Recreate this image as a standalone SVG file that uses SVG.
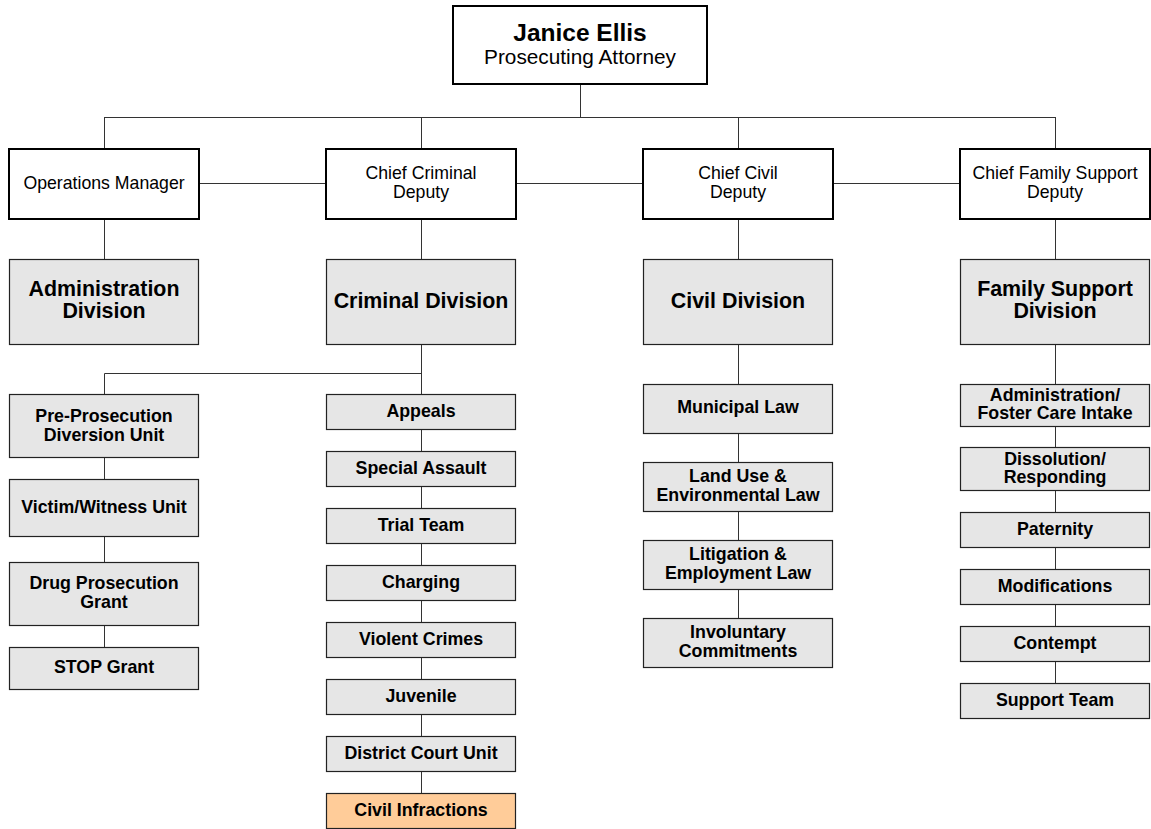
<svg xmlns="http://www.w3.org/2000/svg" width="1151" height="829" viewBox="0 0 1151 829">
  <style>
    text { font-family: "Liberation Sans", Arial, sans-serif; fill: #000; text-anchor: middle; }
    .head { fill: #fff; stroke: #000; stroke-width: 2; }
    .div { fill: #e6e6e6; stroke: #222; stroke-width: 1.2; }
    .unit { fill: #e6e6e6; stroke: #222; stroke-width: 1.2; }
    .hot { fill: #ffcc99; stroke: #222; stroke-width: 1.2; }
    .name { font-size: 24.5px; font-weight: bold; }
    .title { font-size: 20.8px; }
    .dep { font-size: 17.7px; }
    .dtitle { font-size: 21.4px; font-weight: bold; }
    .u { font-size: 17.8px; font-weight: bold; }
    .conn line { stroke: #333; stroke-width: 1; }
  </style>

  <!-- reporting lines -->
  <g id="connectors" class="conn">
    <line x1="580.5" y1="84" x2="580.5" y2="117.5"/>
    <line x1="104.5" y1="117.5" x2="1055.5" y2="117.5"/>
    <line x1="104.5" y1="117" x2="104.5" y2="149"/>
    <line x1="421.5" y1="117" x2="421.5" y2="149"/>
    <line x1="738.5" y1="117" x2="738.5" y2="149"/>
    <line x1="1055.5" y1="117" x2="1055.5" y2="149"/>
    <line x1="199" y1="183.5" x2="326" y2="183.5"/>
    <line x1="516" y1="183.5" x2="643" y2="183.5"/>
    <line x1="833" y1="183.5" x2="960" y2="183.5"/>
    <line x1="104.5" y1="219" x2="104.5" y2="259"/>
    <line x1="421.5" y1="219" x2="421.5" y2="259"/>
    <line x1="738.5" y1="219" x2="738.5" y2="259"/>
    <line x1="1055.5" y1="219" x2="1055.5" y2="259"/>
    <!-- criminal division units -->
    <line x1="421.5" y1="344" x2="421.5" y2="793"/>
    <line x1="104.5" y1="373.5" x2="421.5" y2="373.5"/>
    <line x1="104.5" y1="373.5" x2="104.5" y2="647"/>
    <!-- civil division units -->
    <line x1="738.5" y1="344" x2="738.5" y2="618"/>
    <!-- family support units -->
    <line x1="1055.5" y1="344" x2="1055.5" y2="683"/>
  </g>

  <g id="prosecuting-attorney">
    <rect class="head" x="453" y="6" width="254" height="78"/>
    <text class="name" x="580" y="41">Janice Ellis</text>
    <text class="title" x="580" y="64">Prosecuting Attorney</text>
  </g>

  <!-- deputies -->
  <g id="operations-manager">
    <rect class="head" x="9" y="149" width="190" height="70"/>
    <text class="dep" x="104" y="189">Operations Manager</text>
  </g>
  <g id="chief-criminal-deputy">
    <rect class="head" x="326" y="149" width="190" height="70"/>
    <text class="dep" x="421" y="179">Chief Criminal</text>
    <text class="dep" x="421" y="198">Deputy</text>
  </g>
  <g id="chief-civil-deputy">
    <rect class="head" x="643" y="149" width="190" height="70"/>
    <text class="dep" x="738" y="179">Chief Civil</text>
    <text class="dep" x="738" y="198">Deputy</text>
  </g>
  <g id="chief-family-support-deputy">
    <rect class="head" x="960" y="149" width="190" height="70"/>
    <text class="dep" x="1055" y="179">Chief Family Support</text>
    <text class="dep" x="1055" y="198">Deputy</text>
  </g>

  <!-- divisions -->
  <g id="administration-division">
    <rect class="div" x="9.5" y="259.5" width="189" height="85"/>
    <text class="dtitle" x="104" y="296">Administration</text>
    <text class="dtitle" x="104" y="318">Division</text>
  </g>
  <g id="criminal-division">
    <rect class="div" x="326.5" y="259.5" width="189" height="85"/>
    <text class="dtitle" x="421" y="308">Criminal Division</text>
  </g>
  <g id="civil-division">
    <rect class="div" x="643.5" y="259.5" width="189" height="85"/>
    <text class="dtitle" x="738" y="308">Civil Division</text>
  </g>
  <g id="family-support-division">
    <rect class="div" x="960.5" y="259.5" width="189" height="85"/>
    <text class="dtitle" x="1055" y="296">Family Support</text>
    <text class="dtitle" x="1055" y="318">Division</text>
  </g>

  <!-- criminal division: left branch -->
  <g id="pre-prosecution-diversion-unit">
    <rect class="unit" x="9.5" y="394.5" width="189" height="63"/>
    <text class="u" x="104" y="422">Pre-Prosecution</text>
    <text class="u" x="104" y="441">Diversion Unit</text>
  </g>
  <g id="victim-witness-unit">
    <rect class="unit" x="9.5" y="479.5" width="189" height="57"/>
    <text class="u" x="104" y="513">Victim/Witness Unit</text>
  </g>
  <g id="drug-prosecution-grant">
    <rect class="unit" x="9.5" y="562.5" width="189" height="63"/>
    <text class="u" x="104" y="589">Drug Prosecution</text>
    <text class="u" x="104" y="608">Grant</text>
  </g>
  <g id="stop-grant">
    <rect class="unit" x="9.5" y="647.5" width="189" height="42"/>
    <text class="u" x="104" y="673">STOP Grant</text>
  </g>

  <!-- criminal division: main chain -->
  <g id="appeals">
    <rect class="unit" x="326.5" y="394.5" width="189" height="35"/>
    <text class="u" x="421" y="417">Appeals</text>
  </g>
  <g id="special-assault">
    <rect class="unit" x="326.5" y="451.5" width="189" height="35"/>
    <text class="u" x="421" y="474">Special Assault</text>
  </g>
  <g id="trial-team">
    <rect class="unit" x="326.5" y="508.5" width="189" height="35"/>
    <text class="u" x="421" y="531">Trial Team</text>
  </g>
  <g id="charging">
    <rect class="unit" x="326.5" y="565.5" width="189" height="35"/>
    <text class="u" x="421" y="588">Charging</text>
  </g>
  <g id="violent-crimes">
    <rect class="unit" x="326.5" y="622.5" width="189" height="35"/>
    <text class="u" x="421" y="645">Violent Crimes</text>
  </g>
  <g id="juvenile">
    <rect class="unit" x="326.5" y="679.5" width="189" height="35"/>
    <text class="u" x="421" y="702">Juvenile</text>
  </g>
  <g id="district-court-unit">
    <rect class="unit" x="326.5" y="736.5" width="189" height="35"/>
    <text class="u" x="421" y="759">District Court Unit</text>
  </g>
  <g id="civil-infractions">
    <rect class="hot" x="326.5" y="793.5" width="189" height="35"/>
    <text class="u" x="421" y="816">Civil Infractions</text>
  </g>

  <!-- civil division chain -->
  <g id="municipal-law">
    <rect class="unit" x="643.5" y="384.5" width="189" height="49"/>
    <text class="u" x="738" y="413">Municipal Law</text>
  </g>
  <g id="land-use-environmental-law">
    <rect class="unit" x="643.5" y="462.5" width="189" height="49"/>
    <text class="u" x="738" y="482">Land Use &amp;</text>
    <text class="u" x="738" y="501">Environmental Law</text>
  </g>
  <g id="litigation-employment-law">
    <rect class="unit" x="643.5" y="540.5" width="189" height="49"/>
    <text class="u" x="738" y="560">Litigation &amp;</text>
    <text class="u" x="738" y="579">Employment Law</text>
  </g>
  <g id="involuntary-commitments">
    <rect class="unit" x="643.5" y="618.5" width="189" height="49"/>
    <text class="u" x="738" y="638">Involuntary</text>
    <text class="u" x="738" y="657">Commitments</text>
  </g>

  <!-- family support chain -->
  <g id="administration-foster-care-intake">
    <rect class="unit" x="960.5" y="384.5" width="189" height="42"/>
    <text class="u" x="1055" y="401">Administration/</text>
    <text class="u" x="1055" y="419">Foster Care Intake</text>
  </g>
  <g id="dissolution-responding">
    <rect class="unit" x="960.5" y="447.5" width="189" height="43"/>
    <text class="u" x="1055" y="465">Dissolution/</text>
    <text class="u" x="1055" y="483">Responding</text>
  </g>
  <g id="paternity">
    <rect class="unit" x="960.5" y="512.5" width="189" height="35"/>
    <text class="u" x="1055" y="535">Paternity</text>
  </g>
  <g id="modifications">
    <rect class="unit" x="960.5" y="569.5" width="189" height="35"/>
    <text class="u" x="1055" y="592">Modifications</text>
  </g>
  <g id="contempt">
    <rect class="unit" x="960.5" y="626.5" width="189" height="35"/>
    <text class="u" x="1055" y="649">Contempt</text>
  </g>
  <g id="support-team">
    <rect class="unit" x="960.5" y="683.5" width="189" height="35"/>
    <text class="u" x="1055" y="706">Support Team</text>
  </g>
</svg>
